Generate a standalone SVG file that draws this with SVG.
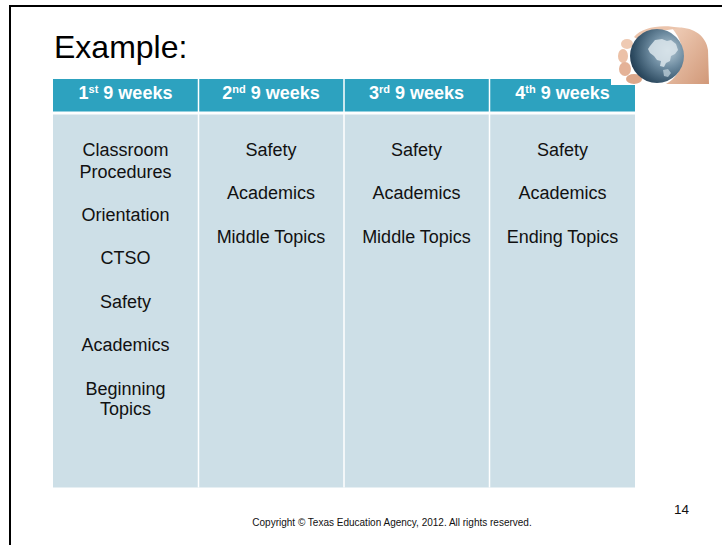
<svg xmlns="http://www.w3.org/2000/svg" width="722" height="545" viewBox="0 0 722 545">
<defs>
<style>
text{font-family:"Liberation Sans",Arial,sans-serif;}
.hd{font-size:18px;font-weight:bold;fill:#ffffff;text-anchor:middle;}
.bd{font-size:18px;fill:#111111;text-anchor:middle;}
.sep{stroke:#ffffff;stroke-width:1.5;}
</style>
<radialGradient id="gl" cx="0.7" cy="0.4" r="0.8">
<stop offset="0" stop-color="#b9cdd8"/>
<stop offset="0.4" stop-color="#6d8ba0"/>
<stop offset="0.8" stop-color="#2f4d63"/>
<stop offset="1" stop-color="#1c3247"/>
</radialGradient>
<linearGradient id="sk" x1="0" y1="0" x2="1" y2="1">
<stop offset="0" stop-color="#f2d2bd"/>
<stop offset="1" stop-color="#d19878"/>
</linearGradient>
</defs>
<rect width="722" height="545" fill="#ffffff"/>
<path d="M10 545 V6 H722" fill="none" stroke="#000000" stroke-width="2"/>
<text x="54" y="58" font-size="32" fill="#000000">Example:</text>

<g id="table">
<rect x="53" y="79" width="582" height="32.5" fill="#2DA2BF"/>
<rect x="53" y="114.5" width="582" height="373" fill="#CDDFE7"/>
<line class="sep" x1="198.5" y1="79" x2="198.5" y2="487.5"/>
<line class="sep" x1="344" y1="79" x2="344" y2="487.5"/>
<line class="sep" x1="489.5" y1="79" x2="489.5" y2="487.5"/>
</g>

<g id="col1">
<text class="hd" x="125.5" y="99">1<tspan font-size="11" dy="-6">st</tspan><tspan dy="6"> 9 weeks</tspan></text>
<text class="bd" x="125.5" y="156">Classroom</text>
<text class="bd" x="125.5" y="177.5">Procedures</text>
<text class="bd" x="125.5" y="221">Orientation</text>
<text class="bd" x="125.5" y="264">CTSO</text>
<text class="bd" x="125.5" y="307.5">Safety</text>
<text class="bd" x="125.5" y="351">Academics</text>
<text class="bd" x="125.5" y="394.5">Beginning</text>
<text class="bd" x="125.5" y="415">Topics</text>
</g>
<g id="col2">
<text class="hd" x="271" y="99">2<tspan font-size="11" dy="-6">nd</tspan><tspan dy="6"> 9 weeks</tspan></text>
<text class="bd" x="271" y="156">Safety</text>
<text class="bd" x="271" y="199">Academics</text>
<text class="bd" x="271" y="242.5">Middle Topics</text>
</g>
<g id="col3">
<text class="hd" x="416.5" y="99">3<tspan font-size="11" dy="-6">rd</tspan><tspan dy="6"> 9 weeks</tspan></text>
<text class="bd" x="416.5" y="156">Safety</text>
<text class="bd" x="416.5" y="199">Academics</text>
<text class="bd" x="416.5" y="242.5">Middle Topics</text>
</g>
<g id="col4">
<text class="hd" x="562.5" y="99">4<tspan font-size="11" dy="-6">th</tspan><tspan dy="6"> 9 weeks</tspan></text>
<text class="bd" x="562.5" y="156">Safety</text>
<text class="bd" x="562.5" y="199">Academics</text>
<text class="bd" x="562.5" y="242.5">Ending Topics</text>
</g>

<g id="globe">
<rect x="611" y="24" width="98" height="61" fill="#ffffff"/>
<path d="M672 28 C690 25 706 34 708 50 L709 84 L666 84 C684 74 690 50 672 28 Z" fill="url(#sk)"/>
<path d="M634 37 C642 27 662 24 680 28 C670 30 650 31 640 41 Z" fill="#ebc4ac"/>
<ellipse cx="627" cy="44" rx="6" ry="5" fill="#efcab3"/>
<ellipse cx="623" cy="56" rx="5" ry="7" fill="#ecc1a7"/>
<ellipse cx="625" cy="69" rx="6" ry="7" fill="#e4b297"/>
<ellipse cx="634" cy="79" rx="8" ry="5" fill="#dca78a"/>
<circle cx="657" cy="56" r="27" fill="url(#gl)"/>
<path d="M650 46 L655 40 L662 39 L667 41 L671 40 L676 44 L678 50 L675 54 L671 56 L670 61 L666 63 L664 67 L660 66 L661 61 L657 60 L654 56 L650 53 L648 49 Z" fill="#dbe5eb" opacity="0.85"/>
<path d="M663 70 L668 69 L671 73 L668 77 L664 76 Z" fill="#b8cad5" opacity="0.8"/>
</g>

<text x="392" y="525.5" font-size="10" fill="#111111" text-anchor="middle">Copyright © Texas Education Agency, 2012. All rights reserved.</text>
<text x="681.5" y="514" font-size="13.5" fill="#111111" text-anchor="middle">14</text>
</svg>
